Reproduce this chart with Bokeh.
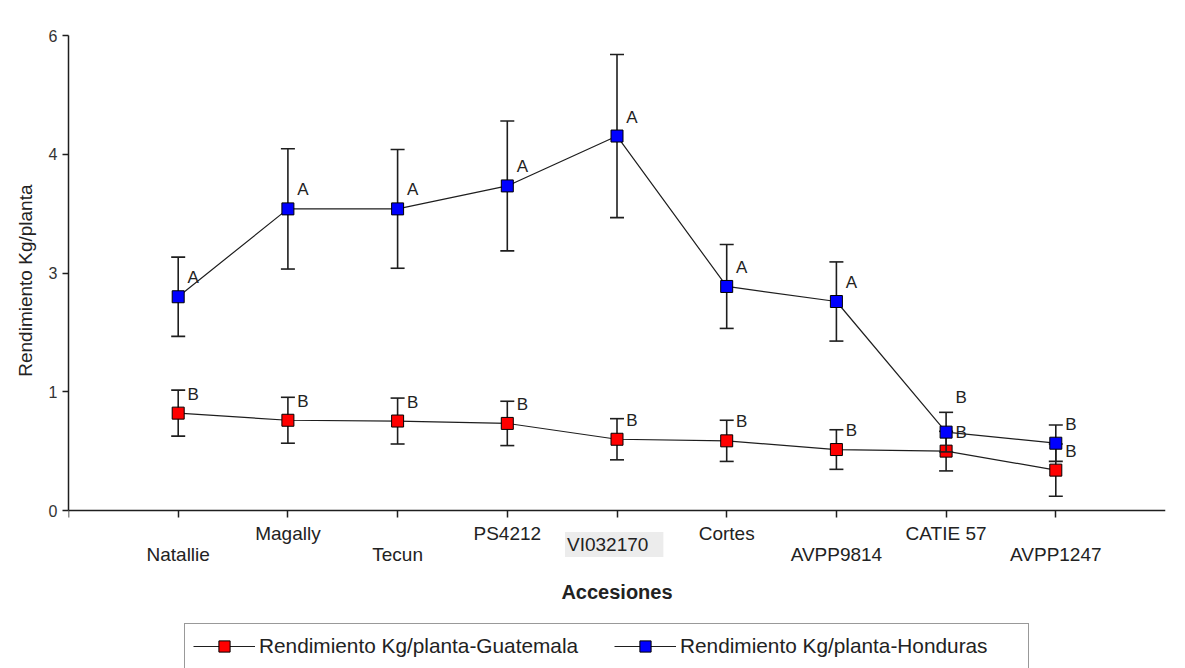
from bokeh.plotting import figure
from bokeh.models import (ColumnDataSource, FixedTicker, Label, Legend, LegendItem, Range1d,
                          Title, CustomJSTickFormatter)
from bokeh.core.properties import value
from bokeh.embed import file_html
from bokeh.resources import INLINE

FONT = "Liberation Sans"
INK = "#1e1e1e"

# accessions (x axis) and yield per plant, kg
accessions = ["Natallie", "Magally", "Tecun", "PS4212", "VI032170",
              "Cortes", "AVPP9814", "CATIE 57", "AVPP1247"]
guatemala = [1.23, 1.14, 1.13, 1.10, 0.90, 0.88, 0.77, 0.75, 0.51]
guatemala_err = [0.29, 0.29, 0.29, 0.28, 0.26, 0.26, 0.25, 0.25, 0.33]
guatemala_groups = ["B", "B", "B", "B", "B", "B", "B", "B", "B"]
honduras = [2.70, 3.81, 3.81, 4.10, 4.73, 2.83, 2.64, 0.99, 0.85]
honduras_err = [0.50, 0.76, 0.75, 0.82, 1.03, 0.53, 0.50, 0.25, 0.23]
honduras_groups = ["A", "A", "A", "A", "A", "A", "A", "B", "B"]

y_ticks = [0, 1.5, 3, 4.5, 6]
y_tick_labels = ["0", "1", "3", "4", "6"]

# screen-pixel lift of the group letters above each marker
guatemala_letter_lift = [-19] * 9
honduras_letter_lift = [-19, -19, -19, -19, -19, -19, -19, -35, -19]
# staggered rows for the category names (pixels below the axis)
name_drop = [44, 23, 44, 23, 34, 23, 44, 23, 44]

xs = list(range(len(accessions)))

# The plotting frame runs to the bottom of the canvas so that the category
# names, the axis title and the legend can sit beneath the zero line.
PX_PER_UNIT = (510 - 35) / 6.0
y_floor = -(668 - 510) / PX_PER_UNIT

p = figure(width=1185, height=668, x_range=Range1d(-1, 9), y_range=Range1d(y_floor, 6),
           x_axis_location="above",
           output_backend="svg", toolbar_location=None,
           min_border_left=68, min_border_right=20, min_border_top=35, min_border_bottom=0)
p.background_fill_color = "white"
p.border_fill_color = "white"
p.outline_line_color = None
p.xgrid.visible = False
p.ygrid.visible = False

for ax in (p.xaxis[0], p.yaxis[0]):
    ax.axis_line_color = INK
    ax.axis_line_width = 1.5
    ax.major_tick_line_color = INK
    ax.major_tick_line_width = 1.5
    ax.minor_tick_line_color = None

p.yaxis.bounds = (0, 6)
p.yaxis.major_tick_out = 6
p.yaxis.major_tick_in = 0
p.yaxis.ticker = FixedTicker(ticks=y_ticks)
p.yaxis.major_label_overrides = dict(zip(y_ticks, y_tick_labels))
p.yaxis.major_label_text_font = FONT
p.yaxis.major_label_text_font_size = "16px"
p.yaxis.major_label_text_color = "#333333"
p.yaxis.major_label_standoff = 5

# vertical title beside the value axis, centred on the 0-6 span
p.add_layout(Title(text="Rendimiento Kg/planta", align="right", offset=149,
                   text_font=FONT, text_font_size="19px", text_font_style="normal",
                   text_color="#222222", standoff=20), "left")

# category axis drawn along y = 0, ticks pointing down
p.xaxis.fixed_location = 0
p.xaxis.bounds = (-1, 9)
p.xaxis.major_tick_out = 0
p.xaxis.major_tick_in = 7
p.xaxis.ticker = FixedTicker(ticks=[-1] + xs)
p.xaxis.formatter = CustomJSTickFormatter(code="return ''")
p.xaxis.major_label_standoff = 0


def add_series(vals, errs, groups, lift, color):
    src = ColumnDataSource(dict(
        x=xs, y=vals,
        lower=[v - e for v, e in zip(vals, errs)],
        upper=[v + e for v, e in zip(vals, errs)],
        group=groups, lift=lift,
    ))
    # error bars with caps
    p.segment(x0="x", y0="lower", x1="x", y1="upper", source=src,
              line_color=INK, line_width=1.6)
    p.scatter(x="x", y="lower", source=src, marker="dash", size=14,
              line_color=INK, line_width=1.6)
    p.scatter(x="x", y="upper", source=src, marker="dash", size=14,
              line_color=INK, line_width=1.6)
    line = p.line(x="x", y="y", source=src, line_color=INK, line_width=1.2)
    pts = p.scatter(x="x", y="y", source=src, marker="square", size=12,
                    fill_color=color, line_color="black", line_width=1)
    p.text(x="x", y="y", text="group", source=src, x_offset=15, y_offset="lift",
           text_font=value(FONT), text_font_size="17px", text_color="#222222",
           text_align="center", text_baseline="middle")
    return line, pts


g_line, g_pts = add_series(guatemala, guatemala_err, guatemala_groups,
                           guatemala_letter_lift, "#ff0000")
h_line, h_pts = add_series(honduras, honduras_err, honduras_groups,
                           honduras_letter_lift, "#0000ff")

# category names, alternating between two rows
for i, name in enumerate(accessions):
    lab = Label(x=i, y=0, y_offset=-name_drop[i],
                text=name, text_font=FONT, text_font_size="19px", text_color="#222222",
                text_align="center", text_baseline="middle")
    if name == "VI032170":
        lab.text_align = "left"
        lab.x_offset = -52
        lab.background_fill_color = "#ececec"
        lab.padding = (2, 15, 2, 2)
    p.add_layout(lab)

p.add_layout(Label(x=4, y=0, y_offset=-81, text="Accesiones", text_font=FONT,
                   text_font_size="20px", text_font_style="bold", text_color="#222222",
                   text_align="center", text_baseline="middle"))

legend = Legend(
    items=[
        LegendItem(label="Rendimiento Kg/planta-Guatemala", renderers=[g_line, g_pts]),
        LegendItem(label="Rendimiento Kg/planta-Honduras", renderers=[h_line, h_pts]),
    ],
    orientation="horizontal", location=(116, -1),
    glyph_width=62, glyph_height=28, label_standoff=4, label_width=340,
    spacing=15, padding=8, margin=0,
    label_text_font=FONT, label_text_font_size="20.8px", label_text_color="#222222",
    border_line_color="#333333", border_line_width=1.5,
    background_fill_color="white", background_fill_alpha=1,
)
p.add_layout(legend)

open("out.html", "w").write(file_html(p, INLINE))
